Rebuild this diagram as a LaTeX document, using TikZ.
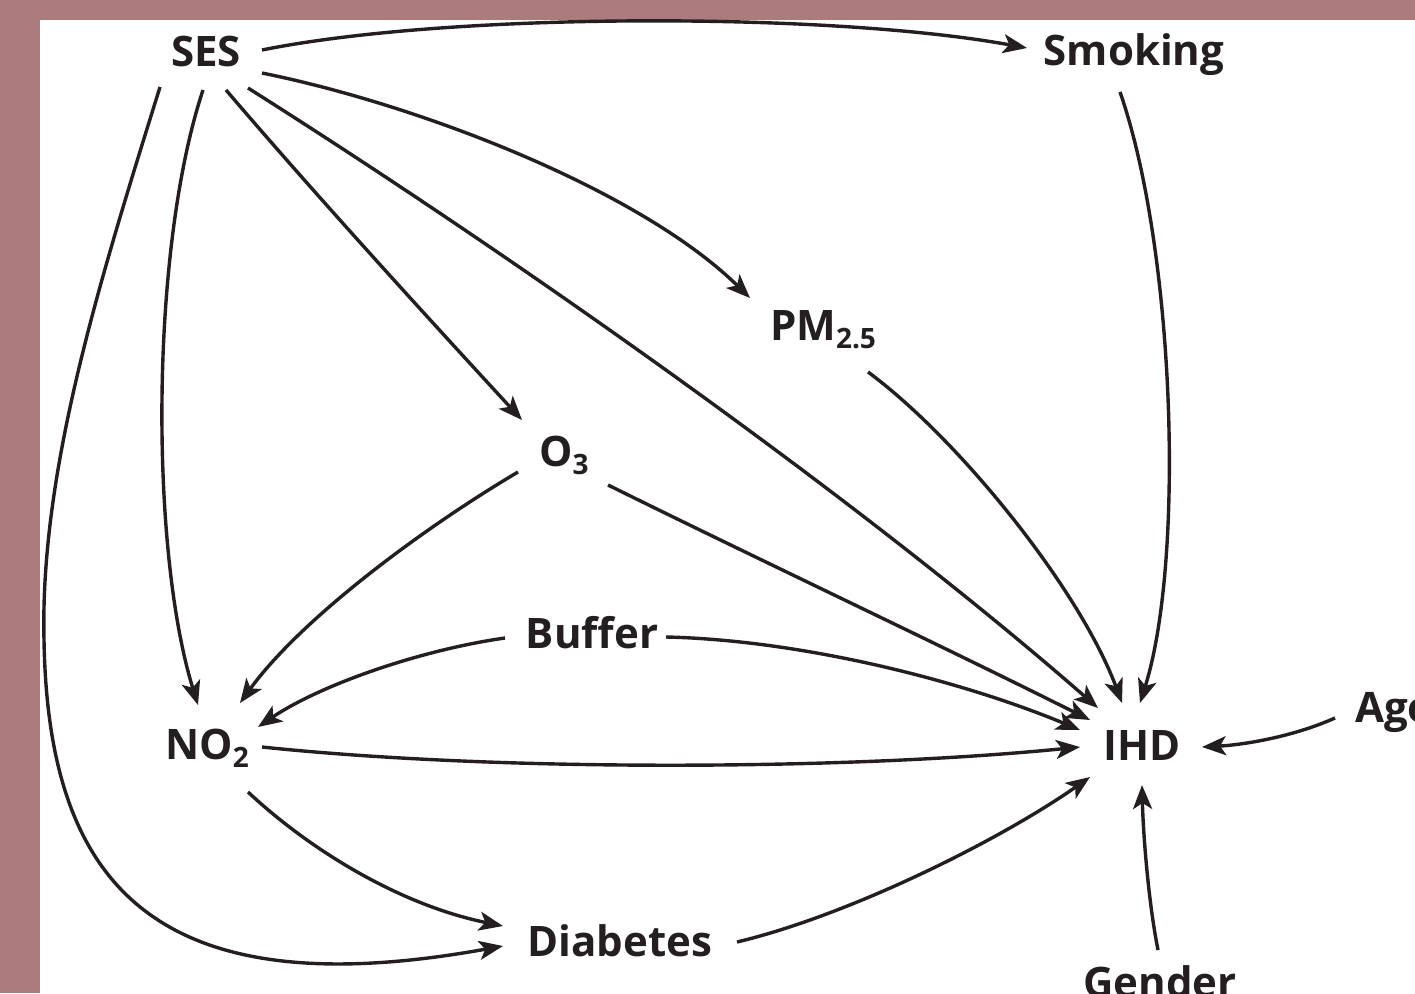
\documentclass[tikz,border=0pt]{standalone}
\usepackage{fontspec}
\setmainfont{Open Sans}
\usetikzlibrary{arrows.meta,calc}
\definecolor{ink}{RGB}{35,31,32}
\definecolor{framecol}{RGB}{172,123,125}
\newcommand\sbs[1]{\raisebox{-8pt}{\fontsize{28}{28}\selectfont #1}}
\begin{document}
\begin{tikzpicture}[x=1pt,y=-1pt,
  lbl/.style={font=\fontsize{42}{42}\selectfont\bfseries, text=ink, inner sep=0pt, text height=30pt, text depth=0pt},
  arr/.style={draw=ink, line width=3.4pt, -{Stealth[length=24pt,width=19pt,inset=6pt]}}]
\useasboundingbox (0,0) rectangle (1415,993);
\clip (0,0) rectangle (1415,993);
\fill[framecol] (0,0) rectangle (1415,993);
\fill[white] (40,20) rectangle (1415,993);

\node[lbl] (ses) at (206,51) {SES};
\node[lbl] (smk) at (1134,50) {Smoking};
\node[lbl] (pm) at (823,325) {PM\sbs{2.5}};
\node[lbl] (o3) at (564,451) {O\sbs{3}};
\node[lbl] (buf) at (592,633) {Buffer};
\node[lbl] (no2) at (207,744) {NO\sbs{2}};
\node[lbl] (ihd) at (1142,745) {IHD};
\node[lbl,anchor=west] (age) at (1355,707) {Age};
\node[lbl] (dia) at (620,941) {Diabetes};
\node[lbl] (gen) at (1160,982) {Gender};

% SES edges
\draw[arr] ($(ses)+(56,-1)$) .. controls (450,12) and (830,12) .. ($(smk)+(-107,-2)$);
\draw[arr] ($(ses)+(56,22)$) .. controls (420,105) and (640,190) .. ($(pm)+(-73,-27)$);
\draw[arr] ($(ses)+(42,37)$) .. controls (520,260) and (860,500) .. ($(ihd)+(-44,-37)$);
\draw[arr] ($(ses)+(20,39)$) .. controls (320,200) and (430,320) .. ($(o3)+(-42,-31)$);
\draw[arr] ($(ses)+(-3,39)$) .. controls (150,250) and (150,550) .. ($(no2)+(-9,-39)$);
\draw[arr] ($(ses)+(-46,36)$) .. controls (100,280) and (40,470) .. (44,640)
   .. controls (48,880) and (150,1010) .. ($(dia)+(-117,5)$);

% Smoking, PM, O3
\draw[arr] ($(smk)+(-14,42)$) .. controls (1175,250) and (1185,560) .. ($(ihd)+(-2,-42)$);
\draw[arr] ($(pm)+(45,47)$) .. controls (960,440) and (1080,590) .. ($(ihd)+(-20,-42)$);
\draw[arr] ($(o3)+(44,34)$) .. controls (770,565) and (930,640) .. ($(ihd)+(-52,-25)$);
\draw[arr] ($(o3)+(-46,21)$) .. controls (420,530) and (300,620) .. ($(no2)+(33,-41)$);

% Buffer
\draw[arr] ($(buf)+(-87,5)$) .. controls (420,650) and (320,685) .. ($(no2)+(51,-17)$);
\draw[arr] ($(buf)+(74,4)$) .. controls (800,640) and (960,680) .. ($(ihd)+(-62,-15)$);

% NO2
\draw[arr] ($(no2)+(55,3)$) .. controls (500,772) and (850,770) .. ($(ihd)+(-62,2)$);
\draw[arr] ($(no2)+(41,48)$) .. controls (310,850) and (400,905) .. ($(dia)+(-117,-15)$);

% Diabetes, Age, Gender
\draw[arr] ($(dia)+(117,1)$) .. controls (850,915) and (1000,840) .. ($(ihd)+(-52,32)$);
\draw[arr] ($(age.west)+(-20,11)$) .. controls (1290,738) and (1240,745) .. ($(ihd)+(60,2)$);
\draw[arr] ($(gen)+(-2,-32)$) .. controls (1148,900) and (1143,830) .. ($(ihd)+(0,40)$);
\end{tikzpicture}
\end{document}
